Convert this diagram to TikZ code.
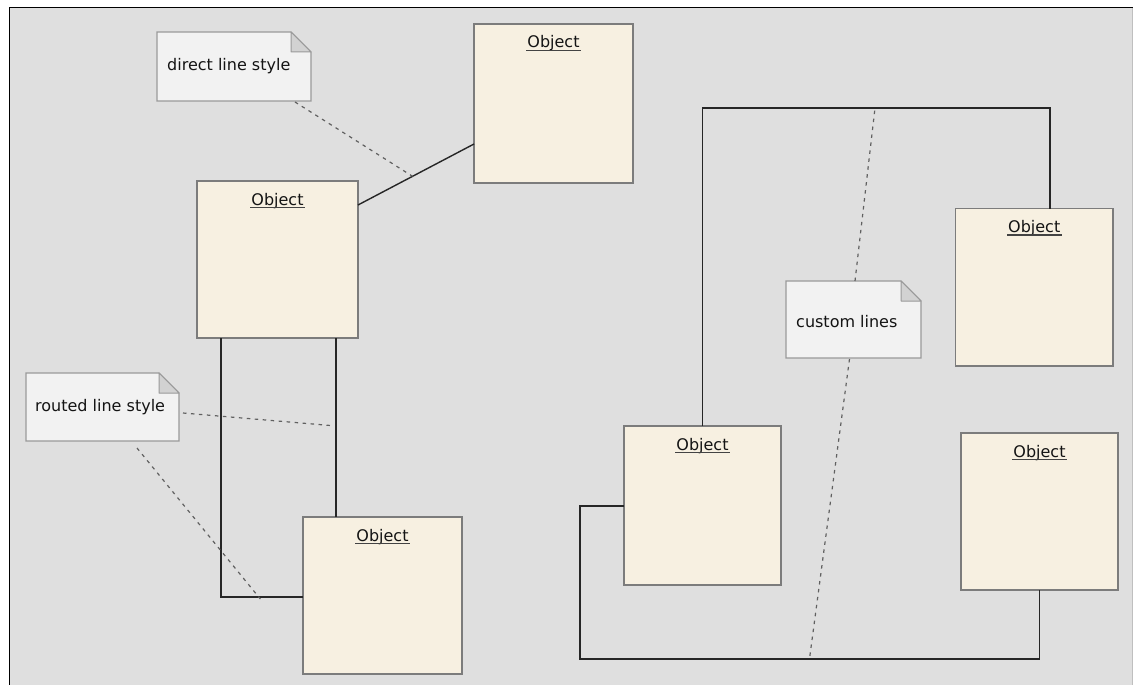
\documentclass[tikz,border=0pt]{standalone}
\usepackage{fontspec}
\setmainfont{DejaVu Sans}
\definecolor{bggray}{HTML}{DFDFDF}
\definecolor{objfill}{HTML}{F7F0E1}
\definecolor{objline}{HTML}{7C7C7C}
\definecolor{notefill}{HTML}{F2F2F2}
\definecolor{noteline}{HTML}{9A9A9A}
\definecolor{foldfill}{HTML}{D2D2D2}
\definecolor{dashgray}{HTML}{606060}
\definecolor{txt}{HTML}{141414}
\begin{document}
\begin{tikzpicture}[x=1pt,y=-1pt,
  obj/.style={draw=objline, line width=1.5pt, fill=objfill, rectangle, inner sep=0pt, outer sep=0pt},
  objtitle/.style={anchor=base, inner sep=0pt, text=txt, font=\fontsize{16}{19}\selectfont},
  ulstyle/.style={draw=txt!80, line width=1.2pt},
  notebox/.style={rectangle, inner sep=0pt, outer sep=0pt, draw=none},
  notetext/.style={anchor=west, inner sep=0pt, text=txt, font=\fontsize{16}{19}\selectfont},
  conn/.style={draw=black!85, line width=1.4pt},
  notelink/.style={draw=dashgray, line width=1.2pt, dash pattern=on 3.5pt off 4.5pt}]

% canvas
\useasboundingbox (0,0) rectangle (1133,685);
\fill[white] (0,0) rectangle (1133,685);
\fill[bggray] (10,8) rectangle (1133,685);
\draw[black, line width=1.5pt] (9.5,685) -- (9.5,7.5) -- (1133,7.5);
\draw[black!25, line width=1pt] (1132.5,8) -- (1132.5,685);

% objects
\node[obj, minimum width=159pt, minimum height=159pt] (a) at (553.5,103.5) {};
\node[obj, minimum width=161pt, minimum height=157pt] (b) at (277.5,259.5) {};
\node[obj, minimum width=159pt, minimum height=157pt] (c) at (382.5,595.5) {};
\node[obj, minimum width=157pt, minimum height=159pt] (d) at (702.5,505.5) {};
\node[obj, minimum width=157.5pt, minimum height=157.5pt] (e) at (1034.25,287.25) {};
\node[obj, minimum width=157pt, minimum height=157pt] (f) at (1039.5,511.5) {};

\foreach \o in {a,b,c,d,e,f}{
  \node[objtitle] (\o t) at ([yshift=-24pt]\o.north) {Object};
  \draw[ulstyle] ([yshift=-2.5pt,xshift=-1pt]\o t.base west) -- ([yshift=-2.5pt,xshift=1pt]\o t.base east);
}

% direct line style connector
\draw[conn] ([yshift=-24pt]b.north east) -- coordinate[pos=0.47] (mid1) ([yshift=-120pt]a.north west);

% routed line style connectors
\coordinate (rl0) at ([xshift=24pt]b.south west);
\coordinate (cport) at ([yshift=-80pt]c.north west);
\coordinate (rl1) at (rl0 |- cport);
\draw[conn] (rl0) -- (rl1) -- coordinate[pos=0.48] (mid3) (cport);
\coordinate (rr0) at ([xshift=-22pt]b.south east);
\draw[conn] (rr0) -- coordinate[pos=0.49] (mid2) (rr0 |- c.north);

% custom lines connectors
\coordinate (cu1) at ([yshift=318pt]d.north);
\coordinate (eport) at ([xshift=-63pt]e.north east);
\coordinate (cu2) at (cu1 -| eport);
\draw[conn] (d.north) -- (cu1) -- (cu2) -- (eport);
\coordinate (cl0) at ([yshift=-80pt]d.north west);
\coordinate (cl1) at ([xshift=-44pt]cl0);
\coordinate (cl2y) at ([yshift=-69pt]f.south);
\coordinate (cl2) at (cl1 |- cl2y);
\draw[conn] (cl0) -- (cl1) -- (cl2) -- (cl2y) -- (f.south);
\coordinate (ct) at (875,108);
\coordinate (cb) at (809.6,658);

% notes
\node[notebox, minimum width=154pt, minimum height=69pt] (n1) at (234,66.5) {};
\node[notebox, minimum width=153pt, minimum height=68pt] (n2) at (102.5,407) {};
\node[notebox, minimum width=135pt, minimum height=77pt] (n3) at (853.5,319.5) {};
\foreach \n in {n1,n2,n3}{
  \filldraw[fill=notefill, draw=noteline, line width=1.2pt]
    (\n.north west) -- ([xshift=-20pt]\n.north east) -- ([yshift=-20pt]\n.north east)
    -- (\n.south east) -- (\n.south west) -- cycle;
  \filldraw[fill=foldfill, draw=noteline, line width=1pt, line join=round]
    ([xshift=-20pt]\n.north east) -- ([xshift=-20pt,yshift=-20pt]\n.north east) -- ([yshift=-20pt]\n.north east) -- cycle;
}
\node[notetext] (n1t) at ([xshift=10pt]n1.west) {direct line style};
\node[notetext] (n2t) at ([xshift=9pt]n2.west) {routed line style};
\node[notetext] (n3t) at ([xshift=10pt,yshift=-2pt]n3.west) {custom lines};

% note links
\draw[notelink] ([xshift=-16pt,yshift=-1pt]n1.south east) -- (mid1);
\draw[notelink] ([xshift=4pt,yshift=-6pt]n2.east) -- ([xshift=-3pt]mid2);
\draw[notelink] ([xshift=111pt,yshift=-7pt]n2.south west) -- ([yshift=-2pt]mid3);
\draw[notelink] ([xshift=1.5pt]n3.north) -- (ct);
\draw[notelink] ([xshift=-4pt,yshift=-1pt]n3.south) -- (cb);
\end{tikzpicture}
\end{document}
